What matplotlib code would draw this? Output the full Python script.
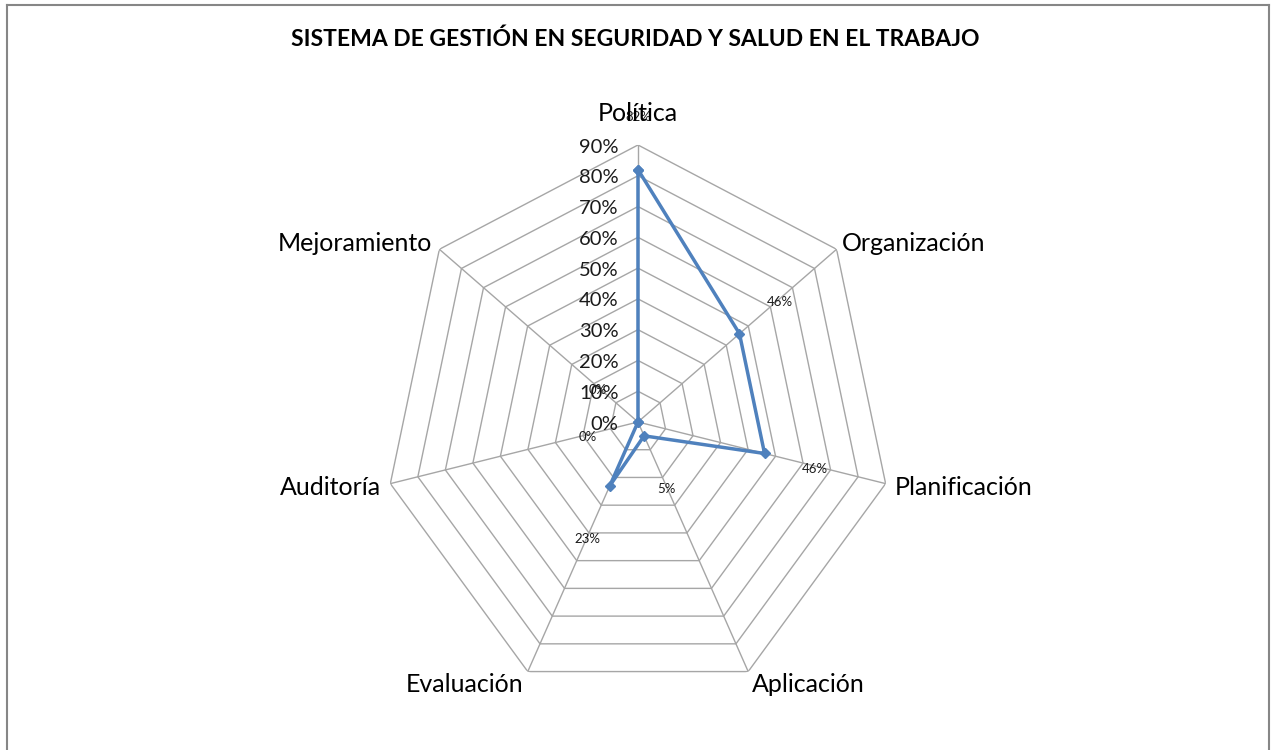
import numpy as np
import matplotlib
matplotlib.use('Agg')
import matplotlib.pyplot as plt
from matplotlib.lines import Line2D

# Data
categories = ['Política', 'Organización', 'Planificación', 'Aplicación',
              'Evaluación', 'Auditoría', 'Mejoramiento']
values = [0.82, 0.46, 0.46, 0.05, 0.23, 0.0, 0.0]
value_labels = ['82%', '46%', '46%', '5%', '23%', '0%', '0%']
ring_levels = [0.0, 0.1, 0.2, 0.3, 0.4, 0.5, 0.6, 0.7, 0.8, 0.9]
ring_labels = ['0%', '10%', '20%', '30%', '40%', '50%', '60%', '70%', '80%', '90%']
title = 'SISTEMA DE GESTIÓN EN SEGURIDAD Y SALUD EN EL TRABAJO'

blue = '#4f81bd'
grid = '#a6a6a6'
font = ['Lato', 'DejaVu Sans']

n = len(categories)
angles = np.arange(n) * 2 * np.pi / n
angles_closed = np.append(angles, angles[0])

fig = plt.figure(figsize=(12.71, 7.5), dpi=100)
# the original is a bit squeezed sideways, so the radar is an ellipse
ax = fig.add_axes([0.3021, 0.068, 0.3997, 0.7387], projection='polar')
ax.set_aspect('auto')
ax.set_theta_offset(np.pi / 2)
ax.set_theta_direction(-1)
ax.set_ylim(0, 0.9)
ax.grid(False)
ax.spines['polar'].set_visible(False)
ax.set_xticks([])
ax.set_yticks([])
ax.patch.set_alpha(0)

# polygon rings and spokes
for lev in ring_levels[1:]:
    ax.plot(angles_closed, [lev] * (n + 1), color=grid, lw=1.0, zorder=1)
for a in angles:
    ax.plot([a, a], [0, ring_levels[-1]], color=grid, lw=1.0, zorder=1)

# radial tick labels
for lev, lab in zip(ring_levels, ring_labels):
    ax.annotate(lab, xy=(0, lev), xytext=(-14, -1.5), textcoords='offset points',
                ha='right', va='center', fontsize=14.5, family=font, color='#1a1a1a')

# series
vals_closed = values + values[:1]
ax.plot(angles_closed, vals_closed, color=blue, lw=2.5, marker='D', ms=5.5,
        zorder=3, clip_on=False)

# data labels (pushed outward along each spoke)
for a, v, lab in zip(angles, values, value_labels):
    dx = 37 * np.sin(a)
    dy = 40 * np.cos(a) - 2
    ax.annotate(lab, xy=(a, v), xytext=(dx, dy), textcoords='offset points',
                ha='center', va='center', fontsize=9.5, family=font, color='#1a1a1a')

# category labels
cat_pos = [
    (0, 23, 'center'),
    (4, 4, 'left'),
    (6.5, -3, 'left'),
    (3, -9, 'left'),
    (-3, -9, 'right'),
    (-6.5, -3, 'right'),
    (-5, 4, 'right'),
]
for a, lab, (ox, oy, ha) in zip(angles, categories, cat_pos):
    ax.annotate(lab, xy=(a, ring_levels[-1]), xytext=(ox, oy), textcoords='offset points',
                ha=ha, va='center', fontsize=18, family=font, color='black')

fig.text(0.5, 0.948, title, ha='center', va='center', fontsize=16.5,
         fontweight='bold', family=font)

# chart border (left, top, right)
for xs, ys in [([0.0055, 0.0055], [0, 0.993]), ([0.0055, 0.9985], [0.993, 0.993]),
               ([0.9985, 0.9985], [0, 0.993])]:
    fig.add_artist(Line2D(xs, ys, color='#868686', lw=1.5, transform=fig.transFigure))

fig.savefig('out.png', dpi=100)
